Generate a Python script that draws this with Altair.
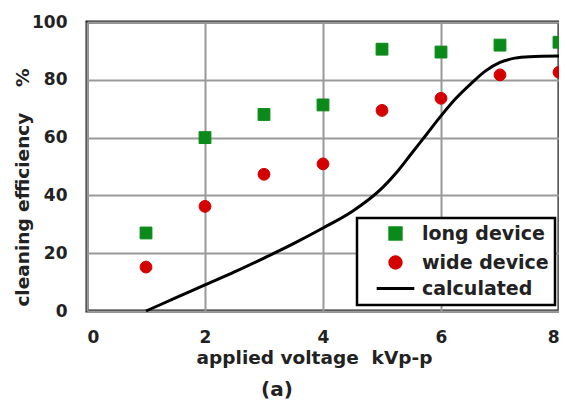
import altair as alt
import pandas as pd

# ---- data ----
voltage = [1, 2, 3, 4, 5, 6, 7, 8]
long_device = [27.0, 60.0, 68.0, 71.3, 90.6, 89.6, 92.0, 93.0]
wide_device = [15.2, 36.2, 47.3, 50.9, 69.4, 73.6, 81.7, 82.6]

calc_x = [1, 1.5, 2, 2.5, 3, 3.5, 4, 4.5, 5, 5.25, 5.5, 5.75, 6, 6.25, 6.5, 6.75, 7, 7.25, 7.5, 8]
calc_y = [0, 4.5, 9, 13.5, 18.3, 23.3, 28.7, 34.5, 42.5, 48, 54.5, 61, 67.5, 73.5, 78.5, 83, 86, 87.5, 88, 88.2]

series_names = ["long device", "wide device", "calculated"]
series_colors = ["#0b8a1a", "#d40000", "#000000"]
series_shapes = ["square", "circle", "M-3.3,0L3.3,0"]

x_ticks = [0, 2, 4, 6, 8]
y_ticks = [0, 20, 40, 60, 80, 100]

FONT = "DejaVu Sans"
TXT = "#222222"
NB = "\u00a0"

pts = pd.DataFrame({
    "voltage": voltage * 2,
    "eff": long_device + wide_device,
    "series": [series_names[0]] * len(voltage) + [series_names[1]] * len(voltage),
})
calc = pd.DataFrame({"voltage": calc_x, "eff": calc_y})

x_enc = alt.X(
    "voltage:Q",
    scale=alt.Scale(domain=[0, 8], nice=False, zero=False),
    axis=alt.Axis(
        values=x_ticks, grid=True, ticks=False, tickSize=0, domain=False,
        labelPadding=18, labelFontSize=17, labelFont=FONT, labelFontWeight="bold",
        labelColor=TXT, title=f"applied voltage{NB}{NB}kVp-p", titleFont=FONT,
        titleFontSize=18.5, titleFontWeight="bold", titleColor=TXT,
        titleX=227, titleY=52, titleBaseline="alphabetic", titleAlign="center",
    ),
)
y_enc = alt.Y(
    "eff:Q",
    scale=alt.Scale(domain=[0, 100], nice=False),
    axis=alt.Axis(
        values=y_ticks, grid=True, ticks=False, tickSize=0, domain=False,
        labelPadding=20, labelFontSize=17, labelFont=FONT, labelFontWeight="bold",
        labelColor=TXT, title=f"cleaning efficiency{NB}{NB}{NB}{NB}%", titleFont=FONT,
        titleFontSize=18.5, titleFontWeight="bold", titleColor=TXT,
        titleX=-59, titleY=165, titleBaseline="alphabetic", titleAlign="center",
        titleAngle=270,
    ),
)

line = alt.Chart(calc).mark_line(
    color="black", strokeWidth=3, interpolate="monotone"
).encode(x=x_enc, y=y_enc)

leg = alt.Legend(
    title=None, orient="none", legendX=270, legendY=196,
    fillColor="white", strokeColor="black",
    padding=6, rowPadding=4, symbolOffset=23, labelOffset=17,
    labelFont=FONT, labelFontSize=19, labelFontWeight="bold", labelColor=TXT,
    symbolSize=130, symbolStrokeWidth=3,
)
sc_col = alt.Scale(domain=series_names, range=series_colors)
sc_shape = alt.Scale(domain=series_names, range=series_shapes)

points = alt.Chart(pts).mark_point(
    filled=True, size=140, opacity=1, strokeWidth=1
).encode(
    x=x_enc, y=y_enc,
    fill=alt.Fill("series:N", scale=sc_col, legend=leg),
    stroke=alt.Stroke("series:N", scale=sc_col, legend=leg),
    shape=alt.Shape("series:N", scale=sc_shape, legend=leg),
)

chart = alt.layer(line, points).properties(
    width=472, height=289,
    autosize=alt.AutoSizeParams(type="none"),
    padding={"left": 79, "top": 14, "right": 0, "bottom": 90},
    title=alt.TitleParams(
        text="(a)", orient="bottom", anchor="middle", dx=-46, offset=13,
        font=FONT, fontSize=20, fontWeight="bold", color=TXT,
    ),
).configure_view(
    stroke="#1a1a1a", strokeWidth=3
).configure_axis(
    gridColor="#999999", gridWidth=2, gridOpacity=1
).configure_legend(
    strokeWidth=2.5
)

chart.save("out.html", embed_options={"renderer": "svg", "actions": False})
